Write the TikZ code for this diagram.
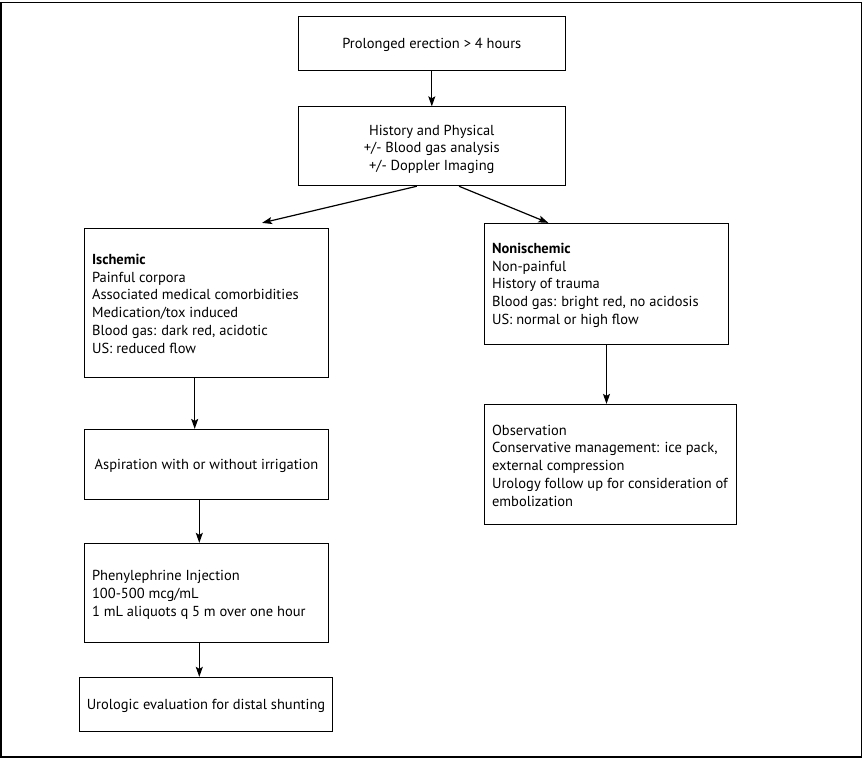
\documentclass[tikz,border=0pt]{standalone}
\usepackage{fontspec}
\setmainfont{PT Sans}
\usetikzlibrary{arrows.meta}
\begin{document}
\begin{tikzpicture}[x=1pt,y=-1pt,
  box/.style={draw, line width=0.9pt, rectangle, inner sep=0pt},
  txt/.style={inner sep=0pt, font=\fontsize{14.5}{17.8}\selectfont},
  ctxt/.style={txt, align=center},
  ltxt/.style={txt, align=left, anchor=west},
  arr/.style={line width=1.2pt, -{Stealth[length=10pt,width=7pt,inset=2pt]}}]
\useasboundingbox (0,0) rectangle (863,760);
\draw[line width=1.3pt] (1,2.5) rectangle (861.5,757);

% centred boxes
\node[box, minimum width=267pt, minimum height=54pt] (pe) at (431.8,43.2) {};
\node[ctxt] (peT) at ([yshift=-2pt]pe.center) {Prolonged erection > 4 hours};
\node[box, minimum width=267pt, minimum height=79pt] (hp) at (431.8,146.3) {};
\node[ctxt] (hpT) at ([yshift=-3pt]hp.center) {History and Physical\\+/- Blood gas analysis\\+/- Doppler Imaging};

% left branch
\node[box, minimum width=244.4pt, minimum height=148.7pt] (isch) at (206.5,302.7) {};
\node[ltxt] (ischT) at ([xshift=8pt,yshift=-1pt]isch.west) {\textbf{Ischemic}\\Painful corpora\\Associated medical comorbidities\\Medication/tox induced\\Blood gas: dark red, acidotic\\US: reduced flow};
\node[box, minimum width=244.4pt, minimum height=69.7pt] (asp) at (206.5,464.2) {};
\node[ctxt] (aspT) at ([yshift=-2pt]asp.center) {Aspiration with or without irrigation};
\node[box, minimum width=244.4pt, minimum height=99pt] (phe) at (206.5,592.8) {};
\node[ltxt] (pheT) at ([xshift=8pt,yshift=-2pt]phe.west) {Phenylephrine Injection\\100-500 mcg/mL\\1 mL aliquots q 5 m over one hour};
\node[box, minimum width=253.4pt, minimum height=54pt] (uro) at (206,704.3) {};
\node[ctxt] (uroT) at ([yshift=-2pt]uro.center) {Urologic evaluation for distal shunting};

% right branch
\node[box, minimum width=244.4pt, minimum height=121pt] (non) at (606.5,283.8) {};
\node[ltxt] (nonT) at ([xshift=8pt,yshift=-1.5pt]non.west) {\textbf{Nonischemic}\\Non-painful\\History of trauma\\Blood gas: bright red, no acidosis\\US: normal or high flow};
\node[box, minimum width=252.4pt, minimum height=119.7pt] (obs) at (610.5,464.2) {};
\node[ltxt] (obsT) at ([xshift=8pt,yshift=-1.5pt]obs.west) {Observation\\Conservative management: ice pack,\\external compression\\Urology follow up for consideration of\\embolization};

% connectors
\draw[arr] (pe.south) -- (hp.north);
\draw[arr] ([xshift=-15pt]hp.south) -- ([xshift=55.5pt,yshift=5pt]isch.north);
\draw[arr] ([xshift=27.2pt]hp.south) -- ([xshift=-58.2pt]non.north);
\draw[arr] ([xshift=-11.8pt]isch.south) -- ([xshift=-11.8pt]isch.south |- asp.north);
\draw[arr] ([xshift=-7.2pt]asp.south) -- ([xshift=-7.2pt]asp.south |- phe.north);
\draw[arr] ([xshift=-7.2pt]phe.south) -- ([xshift=-7.2pt]phe.south |- uro.north);
\draw[arr] (non.south) -- (non.south |- obs.north);
\end{tikzpicture}
\end{document}
